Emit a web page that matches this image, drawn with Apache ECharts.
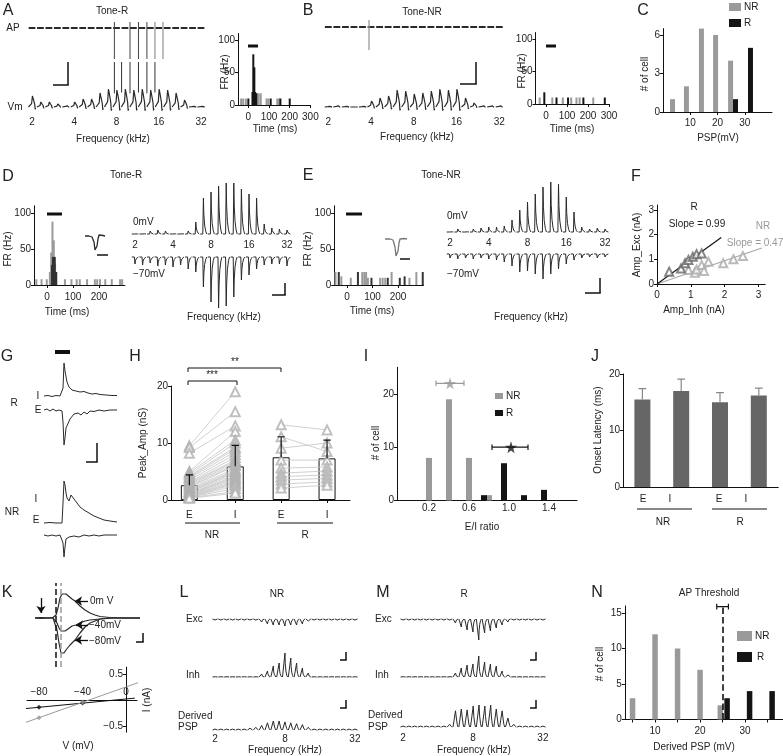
<!DOCTYPE html>
<html><head><meta charset="utf-8">
<script src="https://cdn.jsdelivr.net/npm/echarts@6.0.0/dist/echarts.min.js"></script>
<style>html,body{margin:0;padding:0;background:#fff;}#chart{width:783px;height:756px;}</style>
</head><body><div id="chart"></div>
<script>
// ======================= DATA =======================
// tone axes: tone index where frequency labels sit (kHz)
const freqTickIdx = [0, 5, 10, 15, 20];
const freqTickLbl = ['2', '4', '8', '16', '32'];
const freqTickIdxLM = [0, 12, 24];
const freqTickLblLM = ['2', '8', '32'];

// A/B membrane potential response per tone
const vmA = [11,5,5,3,2,5,8,8,14,18,17,18,17,18,17,18,17,14,7,1,1];
const vmSpikeTimesA = [9.75,10.6,11.6,12.6,13.6,14.55];
const apSpikeTimesA = [9.75,11.6,12.6,13.6,14.55,15.5];
const vmB = [1,2,1,0,1,6,9,11,17,16,13,14,16,18,17,18,9,4,2,2,2];
const apSpikeTimesB = [4.76];

// PSTHs [time (ms), rate (Hz)]
const psthAGray  = [[-35,10],[-25,10],[-12,10],[42,18],[50,18],[60,18],[88,10],[96,10],[140,10],[148,10]];
const psthABlack = [[0,10],[20,20],[24,78],[29,58],[33,20],[38,18],[108,10],[155,10],[200,10]];
const psthBGray  = [[-30,10],[30,10],[80,10],[120,10],[145,10],[160,10],[225,10]];
const psthBBlack = [[-8,18],[50,10],[105,10],[178,10],[280,10]];
const psthDGray  = [[-40,8],[-20,8],[0,8],[12,18],[17,45],[22,88],[27,62],[32,30],[37,18],[70,8],[95,8],[115,8],[127,8],[155,8],[185,8],[194,8],[205,8],[225,8],[250,8],[282,8],[290,8]];
const psthDBlack = [[20,28],[24,39],[29,39],[34,18]];
const psthEGray  = [[-45,18],[-22,12],[15,10],[60,18],[68,18],[75,18],[82,10],[130,10],[140,10],[150,10],[175,18],[245,10],[272,18]];
const psthEBlack = [[-32,18],[43,18],[96,10],[160,10],[207,10],[226,12],[297,18]];
const spikeWaveD = [[0,0],[4,0],[7,-1],[9,-6],[10,-14],[11,-16],[12,-10],[13,-3],[14,1],[16,1.5],[18,0.5],[20,0]];
const spikeWaveE = [[0,0],[5,0],[8,-1],[10,-8],[11,-17],[12,-19],[13,-12],[14,-4],[15,0],[17,1],[19,0.5],[22,0]];

// C: PSP histogram
const pspBinNR = [3.5, 8.6, 14.1, 19.3, 24.8];
const pspCountNR = [1, 2, 6.5, 6, 4];
const pspBinR = [26.6, 32.1];
const pspCountR = [1, 5];

// D/E: currents per tone at 0 mV (up) and -70 mV (down)
const dUp   = [1,2,3,4,3,2,2,3,12,36,42,48,51,51,45,40,36,10,6,5,4];
const dDown = [7,8,6,9,8,10,8,12,15,30,45,51,49,40,23,18,12,8,7,7,9];
const eUp   = [2,3,2,3,4,5,5,6,12,22,30,38,45,50,48,35,20,5,3,4,3];
const eDown = [4,5,4,5,4,5,6,8,12,18,17,20,25,20,15,10,6,4,3,4,3];

// F: Amp_Inh vs Amp_Exc (nA)
const fInhR  = [0.36,0.71,0.83,0.93,1.06,1.17,1.32];
const fExcR  = [0.50,0.63,0.84,0.97,1.10,1.21,1.24];
const fInhNR = [0.93,1.12,1.17,1.32,1.39,1.52,1.96,2.26,2.54];
const fExcNR = [0.57,0.46,0.59,0.77,0.53,0.90,0.84,1.00,1.13];
const fFitR  = [[0,0],[1.9,1.88]];
const fFitNR = [[0,0],[3.1,1.46]];

// G: example conductance traces [time, amplitude]
const gRI  = [[0,0],[4,0.5],[8,-0.5],[12,0.5],[16,0],[18,0.5],[19,8],[20,33],[21,25],[23,14],[25,9],[28,6],[32,5],[36,4],[40,4.5],[44,3],[48,2],[52,2.5],[56,1.5],[62,1],[68,0.5],[73,0.5]];
const gRE  = [[0,0],[3,1],[6,-1],[9,1],[12,-1],[15,0],[18,-1],[19,-12],[20,-35],[21,-28],[22,-18],[24,-17],[26,-9],[28,-7],[30,-4],[32,-6],[34,-3],[37,-5],[40,-2],[43,-4],[46,-1],[50,-1.5],[55,0],[60,-1],[66,0],[73,0]];
const gNRI = [[0,0],[6,0.5],[12,0],[18,0],[19,20],[20,42],[21,38],[22,30],[23,25],[25,22],[27,28],[28,30],[30,24],[33,20],[36,16],[40,13],[45,10],[50,7],[55,5],[60,3],[66,2],[73,1]];
const gNRE = [[0,0],[4,-1],[8,0],[12,-1],[16,0],[18,-1],[19,-8],[20,-22],[21,-12],[22,-4],[25,-2],[30,-1],[35,-2],[40,0],[45,-1],[50,0],[55,-1],[60,0],[73,0]];

// H: peak amplitude (nS) pairs E -> I
const hCats = ['E','I','E','I'];
const hNRE = [9.5,9.2,8.2,5,4.8,4.5,4.2,4,3.8,3.5,3.2,3,2.8,2.6,2.4,2.2,2,1.8,1.6,1.5,1.4,1.2,1.1,1,0.9,0.8,0.7,0.6,0.5,0.5,0.4,0.3];
const hNRI = [19,15.5,13,12,10.5,10,9.3,9,8.5,8,7.5,7,6.8,6.5,6.2,6,5.5,5.2,5,4.8,4.5,4.2,4,3.8,3.5,3.2,3,2.8,2.5,2,1.5,1.2];
const hRE  = [13.2,11.1,9.1,7,5.6,4.7,4.1,3.5,2.8,2.1];
const hRI  = [12.3,8.5,10,7,5.8,5.1,4.4,3.8,3.2,2.6];
const hMean = [2.6, 5.9, 7.5, 7.3];
const hTop  = [4.4, 9.6, 11.1, 10.5];

// I: E/I ratio histogram
const iBinNR = [0.2,0.4,0.6,0.8];
const iCountNR = [8,19,8,1];
const iBinR = [0.75,0.95,1.15,1.35];
const iCountR = [1,7,1,2];
const iStarNR = [0.41, 22], iErrNR = [0.27, 0.55];
const iStarR  = [1.02, 10], iErrR  = [0.83, 1.19];
const iTicks = [0.2, 0.6, 1.0, 1.4];

// J: onset latency (ms)
const jMean = [15.5, 17, 15, 16.2];
const jTop  = [17.4, 19.1, 16.7, 17.5];

// K: traces at holding potentials, and I-V
const k0   = [[0,0],[6,0.5],[12,0],[18,0.5],[20,1],[21,3],[23,10],[25,20],[27,24],[29,25],[31,24],[33,22],[37,19],[40,17],[45,12],[50,8],[55,5],[60,3],[65,1.5],[75,0.5],[85,0],[105,0]];
const k40  = [[0,0],[6,-0.5],[12,0],[18,0],[20,-1],[22,-5],[24,-10],[26,-13],[28,-14],[30,-13],[33,-11],[37,-8],[41,-7],[45,-5],[50,-3],[55,-2],[65,-1],[80,0],[105,0]];
const k80  = [[0,0],[6,0.5],[12,0],[18,0],[20,-2],[22,-12],[24,-25],[26,-35],[27,-37],[29,-35],[31,-32],[35,-27],[40,-22],[45,-15],[50,-9],[55,-5],[60,-3],[65,-1],[75,0],[105,0]];
const ivVolt = [-80, -40];
const ivIBlack = [-0.14, -0.06];
const ivIGray  = [-0.34, -0.04];
const ivFitBlack = [[-92,-0.165],[8,0.035]];
const ivFitGray  = [[-92,-0.43],[12,0.34]];
const ivVTicks = [-80, -40, 0];
const ivITicks = [-0.5, 0.5];

// L / M: per-tone amplitudes
const lExc = [1,1,1,1,1,1,1,1,3,5,6,6,7,6,6,5,2,1,1,1,1,1,1,1,1];
const lInh = [0.5,0.5,0.5,0.5,0.5,0.5,0.5,0.5,3,6,11,14,24,19,14,9,4,0.5,0.5,0.5,0.5,0.5,0.5,0.5,0.5];
const lDer = [1,1,1,1,1,1,2,3,5,8,10,10,9,8,7,6,3,1,1,1,1,1,1,1,1];
const mExc = [1,1,1,1,1,1,1,1,1,4,8,11,13,21,14,12,9,6,3,1,1,1,1,1,1];
const mInh = [0.5,0.5,0.5,0.5,0.5,0.5,0.5,0.5,0.5,4,9,12,13,21,15,13,11,6,2,0.5,0.5,0.5,0.5,0.5,0.5];
const mDer = [1,1,1,1,1,1,1,1,3,18,20,19,21,22,21,22,20,18,10,3,1,1,1,1,1];

// N: derived PSP histogram
const nBinNR = [5,10,15,20,24.5];
const nCountNR = [3,12,10,7,2];
const nBinR = [26,31,36];
const nCountR = [3,4,4];
const apThr = 25, apThrErr = [23.7, 26.3], apThrLevel = 15.9;

// ======================= BUILD =======================
const FONT = '"Liberation Sans", Arial, Helvetica, sans-serif';
const GRAY = '#9a9a9a', DARK = '#141414', TR = '#2a2a2a';
const grids = [], xAxes = [], yAxes = [], series = [], graphics = [];
const isObj = v => v && typeof v === 'object' && !Array.isArray(v);
function merge(a, b) { const o = Object.assign({}, a); for (const k in b) { o[k] = (isObj(b[k]) && isObj(a[k])) ? merge(a[k], b[k]) : b[k]; } return o; }
const minus = v => (v < 0 ? '\u2212' : '') + Math.abs(v);
const AX = {show:true, axisLine:{show:true,onZero:false,lineStyle:{color:'#111',width:1}},
  axisTick:{show:true,length:3,lineStyle:{color:'#111',width:1}},
  axisLabel:{show:true,fontSize:10,fontFamily:FONT,color:'#222',margin:3}, splitLine:{show:false}};
const HID = {show:false, splitLine:{show:false}, axisLine:{onZero:false}};
function ticks(vals, fmt, extra) { return merge({axisTick:{customValues:vals}, axisLabel:{customValues:vals, formatter: fmt || (v => minus(v))}}, extra || {}); }
function vis(o) { return merge(AX, o); }
function grid(box, xa, ya) {
  const i = grids.length;
  grids.push({left:box[0], top:box[1], width:box[2], height:box[3], containLabel:false});
  xAxes.push(merge(merge({gridIndex:i, type:'value'}, HID), xa || {}));
  yAxes.push(merge(merge({gridIndex:i, type:'value'}, HID), ya || {}));
  return i;
}
function toneGrid(x0, step, n, base, up, down, xa) {
  return grid([x0 - 0.6*step, base - up, (n + 0.2)*step, up + down], merge({min:-0.6, max:n - 0.4}, xa || {}), {min:-down, max:up});
}
function freqAxis(idx, lbl, margin) {
  return {show:true, axisLine:{show:false}, axisTick:{show:false},
    axisLabel:{show:true, customValues:idx, formatter:v => { const k = idx.indexOf(v); return k < 0 ? '' : lbl[k]; }, fontSize:10, fontFamily:FONT, color:'#222', margin}};
}
function toneTrace(amps, kernel, sign) {
  const d = [];
  amps.forEach((a, i) => { kernel.forEach(k => d.push([i + k[0], sign * a * k[1]])); d.push([i + 0.47, '-']); });
  return d;
}
function vlines(times, fromFn, to) { const d = []; times.forEach(t => { d.push([t, fromFn(t)], [t, to], [t, '-']); }); return d; }
function errUp(xs, lo, hi, cap) { const d = []; xs.forEach((x, i) => { d.push([x, lo[i]], [x, hi[i]], [x, '-'], [x - cap, hi[i]], [x + cap, hi[i]], [x, '-']); }); return d; }
function zip(a, b) { return a.map((v, i) => [v, b[i]]); }
function L(gi, data, color, w, extra) {
  series.push(merge({type:'line', xAxisIndex:gi, yAxisIndex:gi, data, symbol:'none', showSymbol:false,
    lineStyle:{color, width:w || 1}, itemStyle:{color}, animation:false, silent:true, z:3}, extra || {}));
}
function B(gi, data, color, w, extra) {
  series.push(merge({type:'bar', xAxisIndex:gi, yAxisIndex:gi, data, barWidth:w, barGap:'-100%',
    itemStyle:{color}, animation:false, silent:true, z:2}, extra || {}));
}
function S(gi, data, symbol, size, color, extra) {
  series.push(merge({type:'scatter', xAxisIndex:gi, yAxisIndex:gi, data, symbol, symbolSize:size,
    itemStyle:{color}, animation:false, silent:true, z:4}, extra || {}));
}
function T(x, y, text, o) {
  o = o || {};
  graphics.push({type:'text', x, y, rotation:o.rot || 0, silent:true, z:100,
    style:{text, fill:o.color || '#222', font:(o.weight || 'normal') + ' ' + (o.size || 10) + 'px ' + FONT,
      align:o.align || 'center', verticalAlign:'middle', textAlign:o.align || 'center', textVerticalAlign:'middle'}});
}
function Ln(x1, y1, x2, y2, w, c) { graphics.push({type:'line', silent:true, z:100, shape:{x1, y1, x2, y2}, style:{stroke:c || '#111', lineWidth:w || 1}}); }
function Rc(x, y, w, h, c) { graphics.push({type:'rect', silent:true, z:100, shape:{x, y, width:w, height:h}, style:{fill:c}}); }
function scaleBar(xr, ytop, xl, ybot, w) { Ln(xr, ytop, xr, ybot, w || 1.5); Ln(xl, ybot, xr + 0.7, ybot, w || 1.5); }
const LETTER = {size:16};
const ROT = Math.PI / 2;

// kernels (shape of one tone response: relative time within tone slot, relative amplitude)
const vmKernel    = [[-0.42,0],[-0.2,0],[-0.05,0.3],[0.05,1],[0.2,0.6],[0.32,0.25],[0.38,-0.2],[0.44,-0.1]];
const pulseKernel = [[-0.42,0],[-0.08,0],[0,1],[0.06,0.55],[0.16,0.25],[0.3,0.08],[0.44,0]];
const derKernel   = [[-0.42,0],[-0.1,0],[0,0.9],[0.04,1],[0.15,0.5],[0.3,0.15],[0.44,0]];
const flat21 = vmA.map(() => 0);
const dashKernel = [[-0.4,0],[0.4,0]];
const STAR = 'path://M50,0 L61,35 L98,35 L68,57 L79,91 L50,70 L21,91 L32,57 L2,35 L39,35 Z';
const psthX = (labels) => vis(merge({min:-50, max:300}, ticks(labels, null, {axisLabel:{margin:7}})));
const psthY = () => vis(merge({min:0, max:110}, ticks([0,50,100])));

// ---------- Panel A ----------
T(8, 11, 'A', LETTER); T(112, 11, 'Tone-R'); T(13, 28, 'AP'); T(15, 107, 'Vm');
let g = toneGrid(32, 8.45, 21, 28, 8, 33);
L(g, toneTrace(flat21, dashKernel, 1), TR, 2);
L(g, vlines(apSpikeTimesA.slice(0, 4), () => 6, -31), '#444', 1);
L(g, vlines(apSpikeTimesA.slice(4), () => 6, -31), GRAY, 1.3);
g = toneGrid(32, 8.45, 21, 107, 48, 7, freqAxis(freqTickIdx, freqTickLbl, 3));
L(g, toneTrace(vmA, vmKernel, 1), TR, 1.2);
L(g, vlines(vmSpikeTimesA, t => vmA[Math.round(t)] * 0.8, 45), '#333', 1);
scaleBar(68, 62, 53, 85);
T(113, 139, 'Frequency (kHz)');
g = grid([238, 33.5, 72.4, 71.5], psthX([0,100,200,300]), psthY());
B(g, psthAGray, GRAY, 2); B(g, psthABlack, DARK, 2);
Ln(248, 46, 258, 46, 3);
T(225, 72, 'FR (Hz)', {rot:ROT}); T(275, 129, 'Time (ms)');

// ---------- Panel B ----------
T(308, 11, 'B', LETTER); T(422, 12, 'Tone-NR');
g = toneGrid(328.3, 8.55, 21, 27, 8, 25);
L(g, toneTrace(flat21, dashKernel, 1), TR, 2);
L(g, vlines(apSpikeTimesB, () => 7, -23), GRAY, 1.3);
g = toneGrid(328.3, 8.55, 21, 107, 48, 7, freqAxis(freqTickIdx, freqTickLbl, 3));
L(g, toneTrace(vmB, vmKernel, 1), TR, 1.2);
scaleBar(476, 62, 460, 84);
T(417, 137, 'Frequency (kHz)');
g = grid([535.5, 32.5, 73.5, 71.5], psthX([0,100,200,300]), psthY());
B(g, psthBGray, GRAY, 2); B(g, psthBBlack, DARK, 2);
Ln(546, 46, 556, 46, 3);
T(522, 71, 'FR (Hz)', {rot:ROT}); T(572, 129, 'Time (ms)');

// ---------- Panel C ----------
T(643, 11, 'C', LETTER);
g = grid([663, 28.6, 109, 83.4], vis(merge({min:0, max:40}, ticks([10,20,30], null, {axisLabel:{margin:6}}))), vis(merge({min:0, max:6.5}, ticks([0,3,6]))));
B(g, zip(pspBinNR, pspCountNR), GRAY, 5); B(g, zip(pspBinR, pspCountR), DARK, 5);
Rc(729, 3, 12, 8, GRAY); T(744, 7, 'NR', {align:'left'});
Rc(729, 19, 12, 8, DARK); T(744, 23, 'R', {align:'left'});
T(645, 74, '# of cell', {rot:ROT}); T(718, 138, 'PSP(mV)');

// ---------- Panel D ----------
T(8, 177, 'D', LETTER); T(126, 175, 'Tone-R');
g = grid([34, 205.8, 91, 79.2], psthX([0,100,200]), psthY());
B(g, psthDGray, GRAY, 2); B(g, psthDBlack, '#333', 2.5);
Ln(47, 214, 62, 214, 3);
g = grid([85, 233, 20, 20], {min:0, max:20}, {min:-17, max:3});
L(g, spikeWaveD, TR, 1.3);
Ln(97, 255, 108, 255, 1.5);
T(8, 249, 'FR (Hz)', {rot:ROT}); T(67, 312, 'Time (ms)');
g = toneGrid(135, 7.6, 21, 234, 52, 4, freqAxis(freqTickIdx, freqTickLbl, 2));
L(g, toneTrace(dUp, pulseKernel, 1), TR, 1);
g = toneGrid(135, 7.6, 21, 257, 6, 53);
L(g, toneTrace(dDown, pulseKernel, -1), TR, 1);
T(133, 222, '0mV', {align:'left'}); T(133, 274, '\u221270mV', {align:'left'});
scaleBar(285, 283, 272, 295);
T(224, 317, 'Frequency (kHz)');

// ---------- Panel E ----------
T(308, 176, 'E', LETTER); T(441, 175, 'Tone-NR');
g = grid([334.2, 205.8, 89.3, 79.2], psthX([0,100,200]), psthY());
B(g, psthEGray, GRAY, 2); B(g, psthEBlack, '#333', 2);
Ln(346, 214, 362, 214, 3);
g = grid([385, 236, 22, 24], {min:0, max:22}, {min:-21, max:3});
L(g, spikeWaveE, '#777', 1.3);
Ln(400, 259, 410, 259, 1.5);
T(308, 249, 'FR (Hz)', {rot:ROT}); T(372, 311, 'Time (ms)');
g = toneGrid(450, 7.75, 21, 232, 52, 4, freqAxis(freqTickIdx, freqTickLbl, 2));
L(g, toneTrace(eUp, pulseKernel, 1), TR, 1);
g = toneGrid(450, 7.75, 21, 254, 6, 28);
L(g, toneTrace(eDown, pulseKernel, -1), TR, 1);
T(447, 216, '0mV', {align:'left'}); T(447, 274, '\u221270mV', {align:'left'});
scaleBar(600, 278, 585, 293);
T(531, 317, 'Frequency (kHz)');

// ---------- Panel F ----------
T(636, 177, 'F', LETTER);
g = grid([657, 205, 108.2, 79], vis(merge({min:0, max:3.2}, ticks([0,1,2,3], null, {axisLabel:{margin:6}}))), vis(merge({min:0, max:3.2}, ticks([0,1,2,3]))));
L(g, fFitNR, '#a8a8a8', 1.2); L(g, fFitR, DARK, 1.2);
S(g, zip(fInhNR, fExcNR), 'emptyTriangle', 8, '#aaaaaa');
S(g, zip(fInhR, fExcR), 'emptyTriangle', 8, '#666666');
T(694, 207, 'R'); T(697, 224, 'Slope = 0.99'); T(763, 226, 'NR', {color:'#999'}); T(755, 243, 'Slope = 0.47', {color:'#999'});
T(637, 245, 'Amp_Exc (nA)', {rot:ROT}); T(694, 310, 'Amp_Inh (nA)');

// ---------- Panel G ----------
T(7, 357, 'G', LETTER);
Ln(55, 352, 70, 352, 4);
g = grid([44, 396 - 35, 73, 39], {min:0, max:73}, {min:-4, max:35}); L(g, gRI, TR, 1);
g = grid([44, 410 - 4, 73, 41], {min:0, max:73}, {min:-37, max:4}); L(g, gRE, TR, 1);
g = grid([44, 523 - 44, 73, 47], {min:0, max:73}, {min:-3, max:44}); L(g, gNRI, TR, 1);
g = grid([44, 535 - 3, 73, 27], {min:0, max:73}, {min:-24, max:3}); L(g, gNRE, TR, 1);
scaleBar(97, 443, 86, 462);
T(38, 396, 'I'); T(38, 410, 'E'); T(14, 403, 'R');
T(36, 499, 'I'); T(36, 520, 'E'); T(12, 512, 'NR');

// ---------- Panel H ----------
T(135, 357, 'H', LETTER);
g = grid([171, 386, 179, 114],
  vis(merge({min:0.6, max:4.5}, ticks([1,2,3,4], v => hCats[Math.round(v) - 1], {axisLabel:{margin:10}}))),
  vis(merge({min:0, max:20}, ticks([0,10,20]))));
B(g, [[1,hMean[0]],[2,hMean[1]],[3,hMean[2]],[4,hMean[3]]], '#fff', 17, {itemStyle:{borderColor:'#111', borderWidth:1}});
(function () {
  const d = [];
  hNRE.forEach((e, i) => d.push([1, e], [2, hNRI[i]], [1.5, '-']));
  hRE.forEach((e, i) => d.push([3, e], [4, hRI[i]], [3.5, '-']));
  L(g, d, '#c4c4c4', 0.8);
})();
S(g, hNRE.map(v => [1, v]).concat(hNRI.map(v => [2, v]), hRE.map(v => [3, v]), hRI.map(v => [4, v])), 'emptyTriangle', 9, '#b0b0b0');
L(g, errUp([1,2,3,4], hMean, hTop, 0.08), '#111', 1.2, {z:5});
Ln(188, 381, 237, 381); Ln(188, 381, 188, 385); Ln(237, 381, 237, 385); T(212, 375, '***');
Ln(188, 368, 281, 368); Ln(188, 368, 188, 372); Ln(281, 368, 281, 372); T(235, 362, '**');
Ln(185, 523, 240, 523); T(212, 535, 'NR');
Ln(277, 523, 333, 523); T(305, 535, 'R');
T(143, 443, 'Peak_Amp (nS)', {rot:ROT});

// ---------- Panel I ----------
T(366, 357, 'I', LETTER);
g = grid([397, 367.3, 180, 133.2],
  vis(merge({min:-0.12, max:1.68}, ticks(iTicks, v => v.toFixed(1), {axisTick:{show:false}, axisLabel:{margin:3}}))),
  vis(merge({min:0, max:25}, ticks([0,10,20]))));
B(g, zip(iBinNR, iCountNR), GRAY, 6); B(g, zip(iBinR, iCountR), DARK, 6);
L(g, [[iErrNR[0], iStarNR[1]], [iErrNR[1], iStarNR[1]], [iErrNR[0], '-'],
      [iErrNR[0], iStarNR[1] - 0.5], [iErrNR[0], iStarNR[1] + 0.5], [iErrNR[0], '-'],
      [iErrNR[1], iStarNR[1] - 0.5], [iErrNR[1], iStarNR[1] + 0.5]], GRAY, 1.2);
L(g, [[iErrR[0], iStarR[1]], [iErrR[1], iStarR[1]], [iErrR[0], '-'],
      [iErrR[0], iStarR[1] - 0.5], [iErrR[0], iStarR[1] + 0.5], [iErrR[0], '-'],
      [iErrR[1], iStarR[1] - 0.5], [iErrR[1], iStarR[1] + 0.5]], DARK, 1.2);
S(g, [iStarNR], STAR, 12, GRAY); S(g, [iStarR], STAR, 12, DARK);
Rc(495, 393, 8, 6, GRAY); T(506, 396, 'NR', {align:'left'});
Rc(495, 410, 8, 6, DARK); T(506, 413, 'R', {align:'left'});
T(376, 443, '# of cell', {rot:ROT}); T(482, 527, 'E/I ratio');

// ---------- Panel J ----------
T(595, 357, 'J', LETTER);
g = grid([623, 374, 155.2, 113], vis({min:0.5, max:4.5, axisTick:{show:false}, axisLabel:{show:false}}), vis(merge({min:0, max:20}, ticks([0,10,20]))));
B(g, [[1,jMean[0]],[2,jMean[1]],[3,jMean[2]],[4,jMean[3]]], '#666', 16);
L(g, errUp([1,2,3,4], jMean, jTop, 0.1), '#888', 1.2);
T(643, 499, 'E'); T(670, 499, 'I'); T(719, 499, 'E'); T(746, 499, 'I');
Ln(637, 509, 692, 509); T(663, 522, 'NR');
Ln(712, 509, 767, 509); T(740, 522, 'R');
T(598, 430, 'Onset Latency (ms)', {rot:ROT});

// ---------- Panel K ----------
T(7, 593, 'K', LETTER);
g = grid([35, 583, 105, 84], {min:0, max:105}, {min:-49, max:35});
L(g, k0, TR, 1.2, {markLine:{silent:true, symbol:['none','none'], label:{show:false}, animation:false,
  data:[{xAxis:21, lineStyle:{type:'dashed', color:'#111', width:1.5}}, {xAxis:26, lineStyle:{type:'dashed', color:'#999', width:1.5}}]}});
L(g, k40, TR, 1.2);
L(g, k80, TR, 1.2, {markLine:{silent:true, symbol:['none','arrow'], symbolSize:7, label:{show:false}, animation:false,
  lineStyle:{color:'#111', width:1.3, type:'solid'},
  data:[[{coord:[53,17]},{coord:[40,17]}], [{coord:[53,-7]},{coord:[41,-7]}], [{coord:[53,-22]},{coord:[40,-22]}], [{coord:[6,20]},{coord:[6,5]}]]}});
T(90, 601, '0m V', {align:'left'}); T(89, 625, '\u221240mV', {align:'left'}); T(89, 641, '\u221280mV', {align:'left'});
scaleBar(143, 633, 136, 642);
// I-V: horizontal axis at I = 0 (y = 700), vertical axis at V = 0 (x = 126)
g = grid([27, 667.2, 110, 32.8], vis(merge({min:-91, max:10}, ticks(ivVTicks, null, {axisTick:{show:false}, axisLabel:{inside:true, margin:3}}))), {min:0, max:1});
g = grid([126, 667.2, 11, 65], {min:0, max:1}, vis(merge({min:-0.62, max:0.63}, ticks(ivITicks))));
g = grid([27, 667.2, 110, 65], {min:-91, max:10}, {min:-0.62, max:0.63});
L(g, ivFitBlack, '#111', 1); L(g, ivFitGray, '#999', 1);
S(g, zip(ivVolt, ivIBlack), 'diamond', 5, '#111'); S(g, zip(ivVolt, ivIGray), 'diamond', 5, '#999');
T(147, 700, 'I (nA)', {rot:ROT}); T(78, 746, 'V (mV)');

// ---------- Panel L ----------
T(184, 593, 'L', LETTER); T(277, 594, 'NR');
g = toneGrid(215, 5.83, 25, 619, 3, 10); L(g, toneTrace(lExc, pulseKernel, -1), TR, 1);
g = toneGrid(215, 5.83, 25, 677, 26, 3); L(g, toneTrace(lInh, pulseKernel, 1), TR, 1);
g = toneGrid(215, 5.83, 25, 730, 14, 3, freqAxis(freqTickIdxLM, freqTickLblLM, 1)); L(g, toneTrace(lDer, derKernel, 1), TR, 1);
scaleBar(346, 652, 340, 660); scaleBar(346, 700, 340, 708);
T(186, 619, 'Exc', {align:'left'}); T(186, 675, 'Inh', {align:'left'});
T(178, 716, 'Derived', {align:'left'}); T(178, 727, 'PSP', {align:'left'});
T(285, 750, 'Frequency (kHz)');

// ---------- Panel M ----------
T(383, 593, 'M', LETTER); T(464, 594, 'R');
g = toneGrid(403, 5.83, 25, 619, 3, 23); L(g, toneTrace(mExc, pulseKernel, -1), TR, 1);
g = toneGrid(403, 5.83, 25, 677, 23, 3); L(g, toneTrace(mInh, pulseKernel, 1), TR, 1);
g = toneGrid(403, 5.83, 25, 727, 24, 3, freqAxis(freqTickIdxLM, freqTickLblLM, 3)); L(g, toneTrace(mDer, derKernel, 1), TR, 1);
scaleBar(536, 652, 530, 660); scaleBar(536, 700, 530, 708);
T(375, 619, 'Exc', {align:'left'}); T(375, 675, 'Inh', {align:'left'});
T(368, 715, 'Derived', {align:'left'}); T(368, 727, 'PSP', {align:'left'});
T(474, 750, 'Frequency (kHz)');

// ---------- Panel N ----------
T(597, 593, 'N', LETTER); T(709, 593, 'AP Threshold');
g = grid([624.9, 605.9, 158, 113.6],
  vis(merge({min:3.3, max:38.4}, {axisTick:{customValues:[5,10,15,20,25,30,35]}, axisLabel:{customValues:[10,20,30], margin:7}})),
  vis(merge({min:0, max:16}, ticks([0,5,10,15]))));
B(g, zip(nBinNR, nCountNR), GRAY, 5.5, {markLine:{silent:true, symbol:['none','none'], label:{show:false}, animation:false,
  data:[{xAxis:apThr, lineStyle:{type:'dashed', color:'#111', width:1.6}}]}});
B(g, zip(nBinR, nCountR), DARK, 5.5);
L(g, [[apThrErr[0], apThrLevel], [apThrErr[1], apThrLevel], [apThrErr[0], '-'],
      [apThrErr[0], apThrLevel - 0.4], [apThrErr[0], apThrLevel + 0.4], [apThrErr[0], '-'],
      [apThrErr[1], apThrLevel - 0.4], [apThrErr[1], apThrLevel + 0.4]], '#111', 1.2, {clip:false});
Rc(737, 631, 15, 10, GRAY); T(755, 636, 'NR', {align:'left'});
Rc(737, 652, 15, 10, DARK); T(757, 657, 'R', {align:'left'});
T(600, 664, '# of cell', {rot:ROT}); T(694, 747, 'Derived PSP (mV)');

// ======================= RENDER =======================
const chart = echarts.init(document.getElementById('chart'), null, {renderer:'canvas', width:783, height:756});
chart.setOption({animation:false, backgroundColor:'#ffffff', grid:grids, xAxis:xAxes, yAxis:yAxes, series, graphic:graphics});
</script></body></html>
